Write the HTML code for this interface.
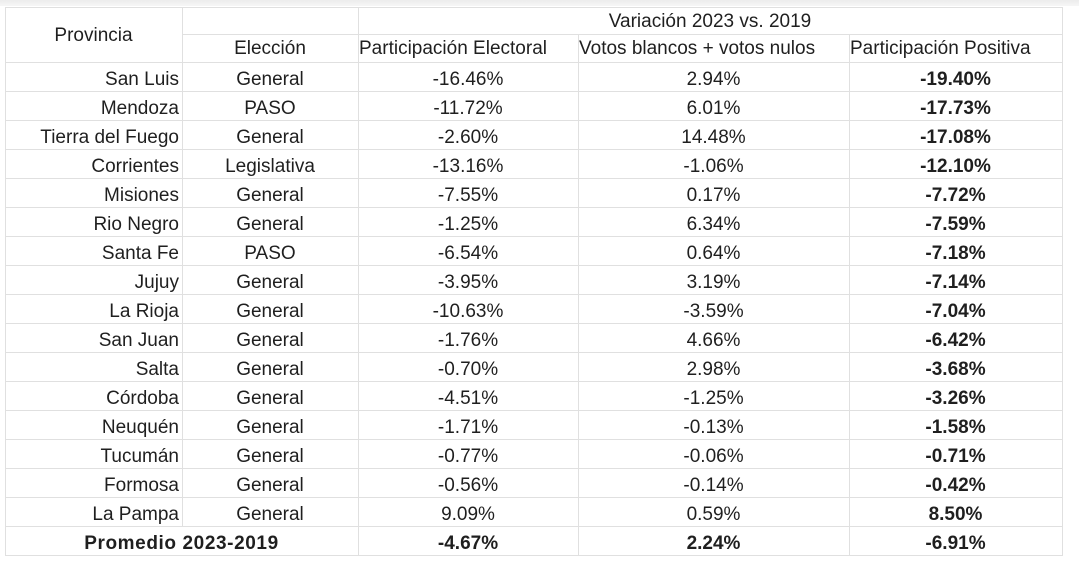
<!DOCTYPE html>
<html>
<head>
<meta charset="utf-8">
<style>
html,body{margin:0;padding:0;background:#fff;}
body{width:1079px;height:568px;position:relative;overflow:hidden;font-family:"Liberation Sans",Arial,sans-serif;color:#1f1f1f;}
.topband{position:absolute;left:0;top:0;width:1079px;height:6px;background:linear-gradient(#ececec,#f6f6f6);}
.h{position:absolute;left:5px;width:1058px;height:1px;background:#e0e0e0;}
.v{position:absolute;width:1px;background:#e0e0e0;}
.t{position:absolute;font-size:19px;line-height:29px;height:29px;white-space:nowrap;}
.c{text-align:center;}
.l{text-align:left;}
.b{font-weight:bold;}
.row{position:absolute;left:0;width:1079px;height:29px;}
.row div{position:absolute;top:3px;font-size:19px;line-height:29px;height:29px;white-space:nowrap;}
.p{left:5px;width:174px;text-align:right;}
.e{left:182px;width:176px;text-align:center;}
.x{left:358px;width:220px;text-align:center;}
.y{left:578px;width:271px;text-align:center;}
.z{left:849px;width:213px;text-align:center;font-weight:bold;}
.pm{left:5px;width:353px;text-align:center;font-weight:bold;letter-spacing:0.6px;}
</style>
</head>
<body>
<div class="topband"></div>
<div class="h" style="top:7px;"></div>
<div class="h" style="left:182px;top:34px;width:881px;"></div>
<div class="h" style="top:62px;"></div>
<div class="h" style="top:91px;"></div>
<div class="h" style="top:120px;"></div>
<div class="h" style="top:149px;"></div>
<div class="h" style="top:178px;"></div>
<div class="h" style="top:207px;"></div>
<div class="h" style="top:236px;"></div>
<div class="h" style="top:265px;"></div>
<div class="h" style="top:294px;"></div>
<div class="h" style="top:323px;"></div>
<div class="h" style="top:352px;"></div>
<div class="h" style="top:381px;"></div>
<div class="h" style="top:410px;"></div>
<div class="h" style="top:439px;"></div>
<div class="h" style="top:468px;"></div>
<div class="h" style="top:497px;"></div>
<div class="h" style="top:526px;"></div>
<div class="h" style="top:555px;"></div>

<div class="v" style="left:5px;top:7px;height:549px;"></div>
<div class="v" style="left:182px;top:7px;height:519px;"></div>
<div class="v" style="left:358px;top:7px;height:549px;"></div>
<div class="v" style="left:578px;top:34px;height:522px;"></div>
<div class="v" style="left:849px;top:34px;height:522px;"></div>
<div class="v" style="left:1062px;top:7px;height:549px;"></div>

<div class="t c" style="left:5px;top:21px;width:177px;">Provincia</div>
<div class="t c" style="left:358px;top:7px;width:704px;">Variación 2023 vs. 2019</div>
<div class="t c" style="left:182px;top:34px;width:176px;">Elección</div>
<div class="t l" style="left:359px;top:34px;">Participación Electoral</div>
<div class="t l" style="left:579px;top:34px;">Votos blancos + votos nulos</div>
<div class="t l" style="left:850px;top:34px;">Participación Positiva</div>

<div class="row" style="top:62px;"><div class="p">San Luis</div><div class="e">General</div><div class="x">-16.46%</div><div class="y">2.94%</div><div class="z">-19.40%</div></div>
<div class="row" style="top:91px;"><div class="p">Mendoza</div><div class="e">PASO</div><div class="x">-11.72%</div><div class="y">6.01%</div><div class="z">-17.73%</div></div>
<div class="row" style="top:120px;"><div class="p">Tierra del Fuego</div><div class="e">General</div><div class="x">-2.60%</div><div class="y">14.48%</div><div class="z">-17.08%</div></div>
<div class="row" style="top:149px;"><div class="p">Corrientes</div><div class="e">Legislativa</div><div class="x">-13.16%</div><div class="y">-1.06%</div><div class="z">-12.10%</div></div>
<div class="row" style="top:178px;"><div class="p">Misiones</div><div class="e">General</div><div class="x">-7.55%</div><div class="y">0.17%</div><div class="z">-7.72%</div></div>
<div class="row" style="top:207px;"><div class="p">Rio Negro</div><div class="e">General</div><div class="x">-1.25%</div><div class="y">6.34%</div><div class="z">-7.59%</div></div>
<div class="row" style="top:236px;"><div class="p">Santa Fe</div><div class="e">PASO</div><div class="x">-6.54%</div><div class="y">0.64%</div><div class="z">-7.18%</div></div>
<div class="row" style="top:265px;"><div class="p">Jujuy</div><div class="e">General</div><div class="x">-3.95%</div><div class="y">3.19%</div><div class="z">-7.14%</div></div>
<div class="row" style="top:294px;"><div class="p">La Rioja</div><div class="e">General</div><div class="x">-10.63%</div><div class="y">-3.59%</div><div class="z">-7.04%</div></div>
<div class="row" style="top:323px;"><div class="p">San Juan</div><div class="e">General</div><div class="x">-1.76%</div><div class="y">4.66%</div><div class="z">-6.42%</div></div>
<div class="row" style="top:352px;"><div class="p">Salta</div><div class="e">General</div><div class="x">-0.70%</div><div class="y">2.98%</div><div class="z">-3.68%</div></div>
<div class="row" style="top:381px;"><div class="p">Córdoba</div><div class="e">General</div><div class="x">-4.51%</div><div class="y">-1.25%</div><div class="z">-3.26%</div></div>
<div class="row" style="top:410px;"><div class="p">Neuquén</div><div class="e">General</div><div class="x">-1.71%</div><div class="y">-0.13%</div><div class="z">-1.58%</div></div>
<div class="row" style="top:439px;"><div class="p">Tucumán</div><div class="e">General</div><div class="x">-0.77%</div><div class="y">-0.06%</div><div class="z">-0.71%</div></div>
<div class="row" style="top:468px;"><div class="p">Formosa</div><div class="e">General</div><div class="x">-0.56%</div><div class="y">-0.14%</div><div class="z">-0.42%</div></div>
<div class="row" style="top:497px;"><div class="p">La Pampa</div><div class="e">General</div><div class="x">9.09%</div><div class="y">0.59%</div><div class="z">8.50%</div></div>
<div class="row" style="top:526px;"><div class="pm">Promedio 2023-2019</div><div class="x b">-4.67%</div><div class="y b">2.24%</div><div class="z">-6.91%</div></div>
</body>
</html>
